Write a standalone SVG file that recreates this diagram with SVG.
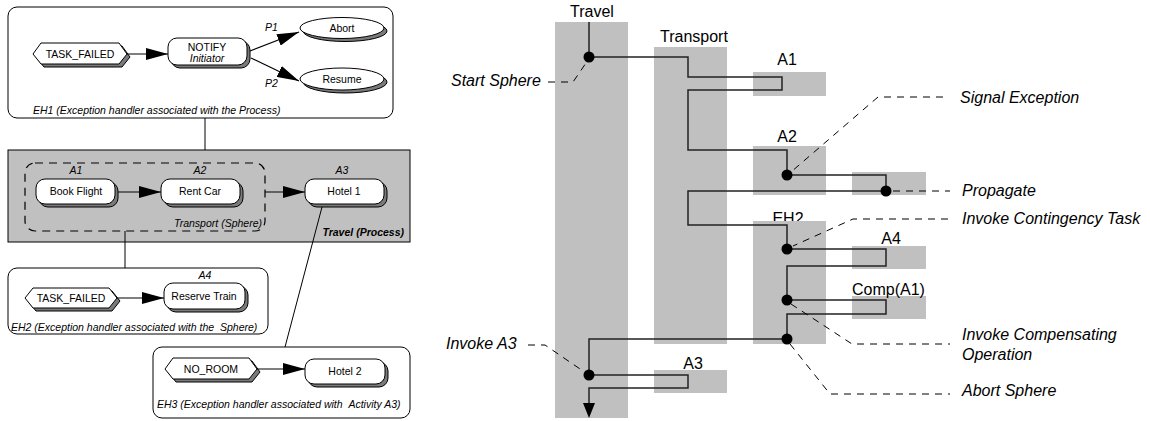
<svg xmlns="http://www.w3.org/2000/svg" width="1150" height="421" viewBox="0 0 1150 421">
<style>
.t{font-family:"Liberation Sans",Arial,sans-serif;font-size:10.5px;fill:#000}
.i{font-style:italic}
.b{font-weight:bold}
.m{text-anchor:middle}
.r{font-family:"Liberation Sans",Arial,sans-serif;font-size:16px;fill:#000}
.box{fill:#fff;stroke:#000;stroke-width:1}
.node{fill:#fff;stroke:#000;stroke-width:1}
.sh{fill:#7a7a7a;stroke:#000;stroke-width:1}
.gray{fill:#c0c0c0;stroke:none}
.arr{stroke:#000;stroke-width:1.2;fill:none;marker-end:url(#ah)}
.ln{stroke:#000;stroke-width:1;fill:none}
.flow{stroke:#222;stroke-width:1.5;fill:none}
.dash{stroke:#000;stroke-width:1;fill:none;stroke-dasharray:7,6}
.dot{fill:#000}
</style>
<defs>
<marker id="ah" markerUnits="userSpaceOnUse" markerWidth="22" markerHeight="12" refX="22" refY="6" orient="auto">
<path d="M0,0 L22,6 L0,12 z" fill="#000"/>
</marker>
</defs>

<!-- Left: containers -->
<g id="eh1">
<rect class="box" x="8" y="7" width="385" height="111" rx="9"/>
<text class="t i" x="33" y="114">EH1 (Exception handler associated with the Process)</text>
</g>
<g id="travel-process">
<rect x="8" y="150" width="402" height="92" fill="#c0c0c0" stroke="#000" stroke-width="1"/>
<text class="t i b" x="404" y="236" text-anchor="end">Travel (Process)</text>
</g>
<g id="transport-sphere">
<rect x="25" y="163" width="240" height="68" rx="10" fill="none" stroke="#000" stroke-width="1.2" stroke-dasharray="8,6"/>
<text class="t i" x="262" y="227" text-anchor="end">Transport (Sphere)</text>
</g>
<g id="eh2">
<rect class="box" x="8" y="268" width="260" height="66" rx="9"/>
<text class="t i" x="11" y="331">EH2 (Exception handler associated with the &#160;Sphere)</text>
</g>
<g id="eh3">
<rect class="box" x="153" y="347" width="257" height="71" rx="9"/>
<text class="t i" x="157" y="408">EH3 (Exception handler associated with &#160;Activity A3)</text>
</g>

<!-- Left: nodes -->
<g id="task-failed-1">
<polygon class="sh" points="36,57 44,46 122,46 130,57 122,67 44,67"/>
<polygon class="node" points="33,54 41,43 119,43 127,54 119,64 41,64"/>
<text class="t m" x="80" y="58">TASK_FAILED</text>
</g>
<g id="notify">
<rect class="sh" x="171" y="41" width="79" height="27" rx="9"/>
<rect class="node" x="168" y="38" width="79" height="27" rx="9"/>
<text class="t m" x="207" y="51">NOTIFY</text>
<text class="t i m" x="207" y="62">Initiator</text>
</g>
<g id="abort">
<ellipse class="sh" cx="345" cy="31" rx="42" ry="10.5"/>
<ellipse class="node" cx="342" cy="28" rx="42" ry="10.5"/>
<text class="t m" x="342" y="32">Abort</text>
</g>
<g id="resume">
<ellipse class="sh" cx="345" cy="82" rx="42" ry="11"/>
<ellipse class="node" cx="342" cy="79" rx="42" ry="11"/>
<text class="t m" x="342" y="83">Resume</text>
</g>
<g id="book-flight">
<rect class="sh" x="39" y="182" width="79" height="25" rx="9"/>
<rect class="node" x="36" y="179" width="79" height="25" rx="9"/>
<text class="t m" x="76" y="195">Book Flight</text>
<text class="t i m" x="76" y="174">A1</text>
</g>
<g id="rent-car">
<rect class="sh" x="164" y="182" width="79" height="25" rx="9"/>
<rect class="node" x="161" y="179" width="79" height="25" rx="9"/>
<text class="t m" x="200" y="195">Rent Car</text>
<text class="t i m" x="200" y="174">A2</text>
</g>
<g id="hotel1">
<rect class="sh" x="308" y="182" width="79" height="25" rx="9"/>
<rect class="node" x="305" y="179" width="79" height="25" rx="9"/>
<text class="t m" x="344" y="195">Hotel 1</text>
<text class="t i m" x="342" y="174">A3</text>
</g>
<g id="task-failed-2">
<polygon class="sh" points="28,301 36,291 112,291 120,301 112,311 36,311"/>
<polygon class="node" points="25,298 33,288 109,288 117,298 109,308 33,308"/>
<text class="t m" x="71" y="302">TASK_FAILED</text>
</g>
<g id="reserve-train">
<rect class="sh" x="167" y="286" width="81" height="26" rx="9"/>
<rect class="node" x="164" y="283" width="81" height="26" rx="9"/>
<text class="t m" x="204" y="300">Reserve Train</text>
<text class="t i m" x="205" y="279">A4</text>
</g>
<g id="no-room">
<polygon class="sh" points="168,372 176,361 252,361 260,372 252,382 176,382"/>
<polygon class="node" points="165,369 173,358 249,358 257,369 249,379 173,379"/>
<text class="t m" x="211" y="373">NO_ROOM</text>
</g>
<g id="hotel2">
<rect class="sh" x="308" y="362" width="80" height="25" rx="9"/>
<rect class="node" x="305" y="359" width="80" height="25" rx="9"/>
<text class="t m" x="345" y="375">Hotel 2</text>
</g>

<!-- Left: connectors -->
<g id="left-connectors">
<line class="ln" x1="205" y1="118" x2="205" y2="150"/>
<line class="ln" x1="125" y1="231" x2="125" y2="268"/>
<line class="ln" x1="322" y1="207" x2="285" y2="347"/>
<line class="arr" x1="127" y1="54" x2="168" y2="54"/>
<line class="arr" x1="250" y1="51" x2="299" y2="32"/>
<line class="arr" x1="251" y1="58" x2="299" y2="81"/>
<text class="t i" x="265" y="31">P1</text>
<text class="t i" x="265" y="87">P2</text>
<line class="arr" x1="118" y1="192" x2="161" y2="192"/>
<line class="arr" x1="265" y1="192" x2="305" y2="192"/>
<line class="arr" x1="117" y1="298" x2="164" y2="298"/>
<line class="arr" x1="257" y1="369" x2="305" y2="369"/>
</g>

<!-- Right: lanes -->
<g id="lane-travel">
<rect class="gray" x="555" y="22" width="73" height="396"/>
<text class="r m" x="592" y="17">Travel</text>
</g>
<g id="lane-transport">
<rect class="gray" x="654" y="47" width="73" height="297"/>
<text class="r" x="660" y="42">Transport</text>
</g>
<g id="lane-a1">
<rect class="gray" x="753" y="72" width="73" height="24"/>
<text class="r m" x="787" y="65">A1</text>
</g>
<g id="lane-a2">
<rect class="gray" x="753" y="146" width="73" height="49"/>
<text class="r m" x="787" y="142">A2</text>
</g>
<g id="lane-propagate">
<rect class="gray" x="852" y="172" width="74" height="23"/>
</g>
<g id="lane-eh2">
<text class="r m" x="788" y="224">EH2</text>
<rect class="gray" x="753" y="221" width="73" height="123"/>
</g>
<g id="lane-a4">
<rect class="gray" x="852" y="246" width="74" height="23"/>
<text class="r m" x="891" y="244">A4</text>
</g>
<g id="lane-comp">
<rect class="gray" x="852" y="296" width="74" height="23"/>
<text class="r" x="852" y="295">Comp(A1)</text>
</g>
<g id="lane-a3">
<rect class="gray" x="654" y="370" width="73" height="23"/>
<text class="r m" x="693" y="369">A3</text>
</g>

<!-- Right: flow -->
<g id="flow-connectors">
<path class="flow" d="M589,22 V57 H688 V77 H782 V90 H688 V150 H787 V175 H886 V191 H688 V225 H787 V249 H886 V266 H787 V300 H886 V314 H787 V339 H589 V375 H688 V388 H589 V404"/>
<polygon points="583,403 595,403 589,418" fill="#000"/>
<circle class="dot" cx="589" cy="57" r="5.5"/>
<circle class="dot" cx="787" cy="175" r="5.5"/>
<circle class="dot" cx="886" cy="191" r="5.5"/>
<circle class="dot" cx="787" cy="249" r="5.5"/>
<circle class="dot" cx="787" cy="300" r="5.5"/>
<circle class="dot" cx="787" cy="339" r="5.5"/>
<circle class="dot" cx="589" cy="375" r="5.5"/>
<path class="dash" d="M548,82 H573 L586,63"/>
<path class="dash" d="M943,97 H878 L791,172"/>
<path class="dash" d="M893,191 H950"/>
<path class="dash" d="M948,219 H853 L793,246"/>
<path class="dash" d="M791,304 L852,344 H950"/>
<path class="dash" d="M790,344 L830,394 H950"/>
<path class="dash" d="M528,345 H545 L583,371"/>
</g>

<!-- Right: annotations -->
<g id="annotations">
<text class="r i" x="451" y="86">Start Sphere</text>
<text class="r i" x="960" y="103">Signal Exception</text>
<text class="r i" x="962" y="196">Propagate</text>
<text class="r i" x="962" y="224">Invoke Contingency Task</text>
<text class="r i" x="962" y="340">Invoke Compensating</text>
<text class="r i" x="962" y="360">Operation</text>
<text class="r i" x="962" y="396">Abort Sphere</text>
<text class="r i" x="446" y="349">Invoke A3</text>
</g>
</svg>
